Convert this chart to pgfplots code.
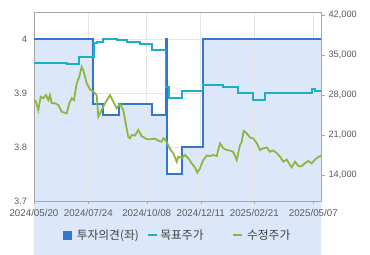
\documentclass[border=0pt]{standalone}
\usepackage{pgfplots}
\pgfplotsset{compat=1.18}
\usepackage{fontspec}
\setmainfont{Liberation Sans}
\newfontfamily\kr{Noto Sans CJK KR}
\definecolor{opblue}{RGB}{49,118,209}
\definecolor{opfill}{RGB}{220,232,250}
\definecolor{tgt}{RGB}{28,176,196}
\definecolor{prc}{RGB}{141,182,64}
\definecolor{lbl}{RGB}{90,90,90}
\begin{document}
\begin{tikzpicture}
\path (0bp,0bp) rectangle (370bp,255bp);
\begin{axis}[
  set layers,
  at={(34bp,54bp)}, anchor=south west,
  scale only axis, width=287bp, height=188.5bp,
  xmin=0, xmax=287, ymin=3.7, ymax=4.05,
  xtick={0,54.3,112.7,166.7,220.3,279.3},
  xticklabels={2024/05/20,2024/07/24,2024/10/08,2024/12/11,2025/02/21,2025/05/07},
  ytick={3.7,3.8,3.9,4}, yticklabels={3.7,3.8,3.9,4},
  xtick pos=bottom, ytick pos=left,
  grid=major, major grid style={draw=black!10, line width=0.7bp},
  axis line style={draw=black!35},
  tick align=outside, major tick length=3.5bp,
  xtick style={draw=black!35},
  ytick style={draw=none},
  ticklabel style={font=\fontsize{9.3}{10}\selectfont, text=lbl},
  xticklabel style={font=\fontsize{9.8}{10}\selectfont, yshift=-1.5bp},
  /pgf/number format/assume math mode=true,
]
\addplot[on layer=axis background, const plot, fill=opfill, draw=none] coordinates {
(0,4) (59.3,3.88) (68.7,3.86) (85.3,3.88) (118.4,3.86) (131.7,4) (132.7,3.75) (147.7,3.80) (168.7,4) (287,4) (287,3.6) (0,3.6)
} --cycle;
\addplot[const plot, draw=opblue, line width=2bp] coordinates {
(0,4) (59.3,3.88) (68.7,3.86) (85.3,3.88) (118.4,3.86) (131.7,4) (132.7,3.75) (147.7,3.80) (168.7,4) (287,4)
};
\end{axis}
\begin{axis}[
  at={(34bp,54bp)}, anchor=south west,
  scale only axis, width=287bp, height=188.5bp,
  xmin=0, xmax=287, ymin=9450, ymax=42450,
  axis x line=none, axis y line*=right,
  ytick={14000,21000,28000,35000,42000},
  scaled y ticks=false,
  yticklabel style={/pgf/number format/1000 sep={,}},
  axis line style={draw=black!35},
  tick align=outside, major tick length=4bp,
  ytick style={draw=black!35},
  ticklabel style={font=\fontsize{9.3}{10}\selectfont, text=lbl},
  /pgf/number format/assume math mode=true,
  legend columns=3,
  legend style={at={(0.1,-0.183)}, anchor=west, draw=none, fill=none, inner sep=0pt,
    font=\kr\fontsize{11.8}{12}\selectfont, text=black!75,
    nodes={inner sep=0.5bp},
    /tikz/column 1/.style={column sep=5bp},
    /tikz/column 2/.style={column sep=8bp},
    /tikz/column 3/.style={column sep=1.5bp},
    /tikz/column 4/.style={column sep=28bp},
    /tikz/column 5/.style={column sep=3.5bp}},
]
\addlegendimage{legend image code/.code={\fill[opblue] (0bp,-4bp) rectangle (8bp,4bp);}}
\addlegendentry{투자의견(좌)}
\addlegendimage{legend image code/.code={\draw[tgt, line width=2bp] (0bp,0bp) -- (9bp,0bp);}}
\addlegendentry{목표주가}
\addlegendimage{legend image code/.code={\draw[prc, line width=2bp] (0bp,0bp) -- (9bp,0bp);}}
\addlegendentry{수정주가}
\addplot[const plot, draw=tgt, line width=1.8bp, forget plot] coordinates {
(0,33650) (33.3,33375) (45.3,34700) (60,37050) (62.7,37325) (68.7,37750) (82.7,37625) (92.7,37325) (106,36925) (117.7,35875) (131.5,29350) (135.3,27550) (147.7,28750) (168.5,29750) (189.3,29350) (204.3,28400) (219.3,27100) (231,28400) (277.7,29050) (281,28750) (287,28750)
};
\addplot[draw=prc, line width=1.8bp, forget plot] coordinates {
(0,27125) (2,26828) (4.3,25375) (6.7,27703) (9.3,27423) (12,28000) (14.3,27125) (16,28000) (17.7,26548) (21,26548) (24.3,26250) (27.7,25078) (32.7,24798) (35.3,26548) (37.7,27423) (40,27125) (42.7,30048) (45.3,31203) (47.7,32953) (49.3,32375) (52.7,30048) (56,28998) (59.3,28578) (62.7,28000) (64.3,24203) (67.7,25375) (71,26548) (76,28000) (79.3,26828) (82.7,25673) (86,26425) (89.3,25375) (92,22750) (94.3,20650) (96,20423) (97.7,21000) (101,20913) (104.3,21875) (107.7,20800) (112.7,20300) (116,20248) (121,20388) (124.3,20003) (127.7,19828) (129.3,20423) (131,20248) (133.3,19548) (136,18550) (139.3,17798) (142.7,16328) (144.3,17203) (147.7,16975) (151,17500) (154.3,16923) (157.7,16048) (161,15313) (163.3,14403) (166,15173) (169.3,16625) (172.7,17413) (176,17325) (179.3,17500) (182.7,17325) (186,19548) (189.3,18673) (192.7,18375) (196,18288) (199.3,18025) (202.7,16625) (206,19250) (207.7,19828) (209.7,21700) (212.7,21298) (216,20563) (219.3,20388) (222.7,19600) (226,18375) (229.3,18673) (232.7,18813) (236,18078) (239.3,18288) (242.7,17850) (246,17203) (249.3,16328) (252.7,16713) (256,15750) (257.7,15348) (261,16328) (264.3,15575) (267.7,15523) (271,16100) (274.3,16450) (277.7,16048) (281,16713) (284.3,17150) (287,17388)
};
\end{axis}
\end{tikzpicture}
\end{document}
